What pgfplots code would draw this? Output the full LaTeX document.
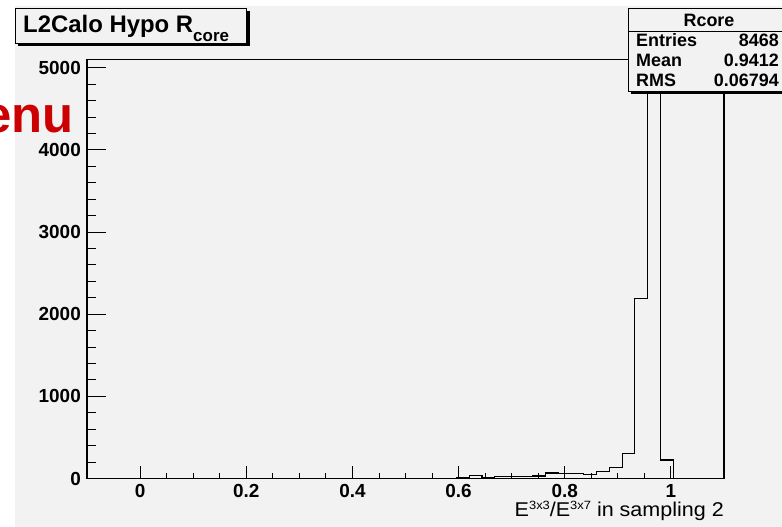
\documentclass[border=0pt]{standalone}
\usepackage{pgfplots}
\pgfplotsset{compat=1.18}
\usepackage{fontspec}
\setmainfont{Liberation Sans}
\newfontfamily\widefont[FakeStretch=1.08]{Liberation Sans}
\definecolor{bg}{HTML}{F2F2F2}
\definecolor{rootred}{HTML}{CC0000}

\pgfplotsset{
  rootaxis/.style={
    scale only axis, width=637bp, height=419bp,
    at={(87bp,48.5bp)}, anchor=south west,
    xmin=-0.1, xmax=1.1, ymin=0, ymax=5100,
    axis line style={line width=1.1bp, black},
    tick pos=left, tick align=inside,
    tick style={line width=0.9bp, black},
    ticklabel style={font=\fontsize{19}{19}\selectfont\bfseries},
    /pgf/number format/assume math mode=true,
    scaled ticks=false,
    /pgf/number format/1000 sep={},
  }
}

\begin{document}
\begin{tikzpicture}[x=1bp,y=1bp]
\useasboundingbox (0,0) rectangle (782,527);
\clip (0,0) rectangle (782,527);
\fill[white] (0,0) rectangle (782,527);
\fill[bg] (15,0) rectangle (782,521);

% y-tick axis (longer ticks)
\begin{axis}[rootaxis,
  xtick=\empty,
  ytick={0,1000,2000,3000,4000,5000},
  minor y tick num=4,
  major tick length=19bp, minor tick length=9bp,
  yticklabel style={anchor=east, inner sep=0pt, xshift=-6bp},
]
\end{axis}

% main axis with histogram and x ticks
\begin{axis}[rootaxis,
  ytick=\empty,
  xtick={0,0.2,0.4,0.6,0.8,1},
  xticklabels={0,0.2,0.4,0.6,0.8,1},
  minor x tick num=3,
  major tick length=12bp, minor tick length=5bp,
  xticklabel style={anchor=north, inner sep=0pt, yshift=-5.5bp},
  xlabel={E\raisebox{7bp}{\fontsize{12}{12}\selectfont 3x3}/E\raisebox{7bp}{\fontsize{12}{12}\selectfont 3x7} in sampling 2},
  xlabel style={at={(rel axis cs:1,0)}, anchor=base east, inner sep=0pt, yshift=-38.5bp, xshift=0bp,
    font=\widefont\fontsize{20}{20}\selectfont},
]
\addplot[const plot, black, line width=1.1bp] coordinates {
(-0.1,0) (0.596,15) (0.62,40) (0.644,8) (0.668,28) (0.692,28) (0.716,28)
(0.74,30) (0.764,67) (0.788,58) (0.812,65) (0.836,45) (0.86,90) (0.884,130)
(0.908,300) (0.932,2190) (0.956,5121) (0.98,225) (1.004,0) (1.1,0)
};
\end{axis}

% red fragment
\node[anchor=base east, inner sep=0pt, text=rootred, font=\fontsize{51}{51}\selectfont\bfseries] at (74,394.5) {enu};

% title box
\fill[black] (18,481) rectangle (249.7,516);
\filldraw[fill=bg, draw=black, line width=0.8bp] (15,484) rectangle (246.7,519);
\node[anchor=base west, inner sep=0pt, font=\fontsize{24}{24}\selectfont\bfseries] at (23,494.7)
  {L2Calo Hypo R\raisebox{-9.4bp}{\fontsize{17}{17}\selectfont core}};

% stats box
\fill[black] (631,433) rectangle (795,516);
\filldraw[fill=bg, draw=black, line width=0.8bp] (628,436) rectangle (792,519);
\draw[black, line width=0.8bp] (628,495.3) -- (792,495.3);
\begin{scope}[every node/.style={inner sep=0pt, font=\fontsize{18}{18}\selectfont\bfseries}]
\node[anchor=base] at (709,500) {Rcore};
\node[anchor=base west] at (636,480) {Entries};
\node[anchor=base east] at (779,480) {8468};
\node[anchor=base west] at (636,460) {Mean};
\node[anchor=base east] at (779,460) {0.9412};
\node[anchor=base west] at (636,440) {RMS};
\node[anchor=base east] at (779,440) {0.06794};
\end{scope}
\end{tikzpicture}
\end{document}
